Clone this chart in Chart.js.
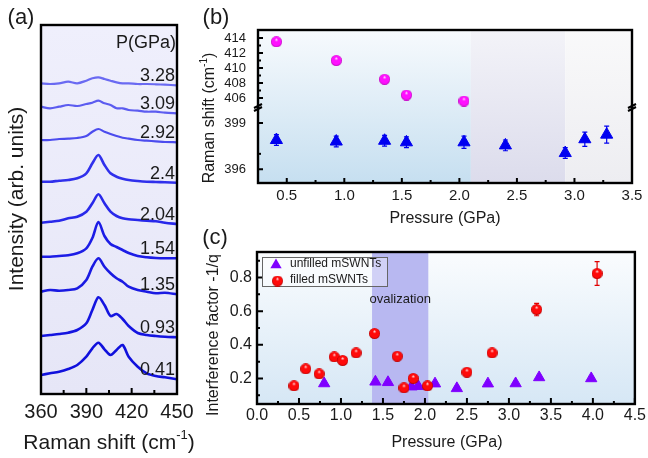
<!DOCTYPE html>
<html>
<head>
<meta charset="utf-8">
<script src="https://cdn.jsdelivr.net/npm/chart.js@4.4.0/dist/chart.umd.min.js"></script>
<style>
  html, body { margin: 0; padding: 0; background: #fff; }
  #wrap { position: relative; width: 648px; height: 458px; overflow: hidden; }
  canvas { position: absolute; }
</style>
</head>
<body>
<div id="wrap">
  <canvas id="chartA" width="205" height="458" style="left:0;top:0"></canvas>
  <canvas id="chartB" width="458" height="230" style="left:190px;top:0"></canvas>
  <canvas id="chartC" width="458" height="229" style="left:190px;top:229px"></canvas>
</div>
<script>
// ---- (a) Raman spectra, intensity in arb. units (offset stacked) ----
const ramanShift = [360, 366, 372, 378, 384, 390, 394, 398, 402, 406, 410, 414, 418, 424, 430, 436, 442, 450];
const pressureLabelsA = ['3.28', '3.09', '2.92', '2.4', '2.04', '1.54', '1.35', '0.93', '0.41'];
const spec328 = [310.7, 310, 310.7, 312.3, 310.7, 313.3, 315.7, 316.7, 315, 313.3, 311.7, 310.7, 310.7, 310, 310, 309.7, 309.3, 308.7];
const spec309 = [287.3, 285.7, 287.3, 289, 288, 290, 291.3, 293.3, 290.7, 289, 285.7, 285.7, 284, 283.3, 282.3, 282.3, 281.3, 280.7];
const spec292 = [254, 254, 255, 255.3, 256, 258, 262.3, 265, 262.3, 260, 258, 256.3, 255.3, 254, 253.3, 252.7, 252, 251.7];
const spec240 = [212.3, 212.3, 213.3, 214, 215.7, 220.7, 230.7, 239, 229, 220.7, 217.3, 215.3, 214, 213, 212.3, 212, 211.7, 211.3];
const spec204 = [171.3, 172.3, 173.3, 175.7, 177.3, 182.3, 190.7, 199.7, 190.7, 182.3, 178, 175.7, 174.7, 174, 173.3, 172.7, 171.3, 170];
const spec154 = [137.3, 137.3, 138, 138.7, 140.7, 145.7, 156, 172, 158, 150, 147, 144, 141, 138, 136.7, 136, 135.7, 135.7];
const spec135 = [102.3, 104, 103.3, 104, 105.7, 114, 127.3, 135.7, 127.3, 120.7, 115.7, 112.3, 107.3, 104, 102.3, 100.7, 101.3, 99.7];
const spec093 = [58, 59, 60, 61.3, 64, 70.7, 84, 96.7, 89, 78, 80, 75, 68, 61, 59, 58, 57.3, 56.7];
const spec041 = [19, 20.7, 22.3, 25, 29, 37.3, 45.7, 51.3, 44.7, 39, 44, 49, 37.3, 27.3, 20.7, 18, 16.7, 14.7];
const ticksA = [360, 390, 420, 450];
const minorA = [375, 405, 435];

// ---- (b) peak positions vs pressure ----
const pressureUpper = [0.41, 0.93, 1.35, 1.54, 2.04];
const shiftUpper = [413.5, 411.0, 408.5, 406.4, 405.6];
const pressureLower = [0.41, 0.93, 1.35, 1.54, 2.04, 2.4, 2.92, 3.09, 3.28];
const shiftLower = [397.9, 397.8, 397.85, 397.75, 397.75, 397.55, 397.05, 397.95, 398.25];
const errLower = [0.35, 0.35, 0.35, 0.35, 0.4, 0.35, 0.35, 0.47, 0.55];
const regionsB = [0.25, 2.1, 2.92, 3.5];
const ticksBx = [0.5, 1.0, 1.5, 2.0, 2.5, 3.0, 3.5];
const minorBx = [0.75, 1.25, 1.75, 2.25, 2.75, 3.25];
const ticksBupper = [406, 408, 410, 412, 414];
const minorBupper = [407, 409, 411, 413];
const ticksBlower = [396, 399];
const minorBlower = [397];

// ---- (c) interference factor ----
const pressureUnfilled = [0.80, 1.41, 1.56, 1.84, 1.92, 2.12, 2.38, 2.75, 3.08, 3.36, 3.98];
const factorUnfilled = [0.170, 0.180, 0.177, 0.151, 0.154, 0.169, 0.141, 0.169, 0.170, 0.206, 0.200];
const errUnfilled = [0.012, 0.012, 0.012, 0.012, 0.012, 0.012, 0.012, 0.012, 0.012, 0.012, 0.012];
const pressureFilled = [0.44, 0.58, 0.74, 0.92, 1.02, 1.18, 1.40, 1.67, 1.75, 1.86, 2.03, 2.50, 2.80, 3.33, 4.05];
const factorFilled = [0.156, 0.257, 0.227, 0.328, 0.307, 0.352, 0.467, 0.332, 0.144, 0.200, 0.156, 0.237, 0.352, 0.610, 0.824];
const errFilled = [0.01, 0.01, 0.01, 0.01, 0.01, 0.01, 0.01, 0.01, 0.01, 0.01, 0.01, 0.01, 0.01, 0.037, 0.071];
const ovalization = [1.37, 2.04];
const ticksCx = [0, 0.5, 1.0, 1.5, 2.0, 2.5, 3.0, 3.5, 4.0, 4.5];
const minorCx = [0.25, 0.75, 1.25, 1.75, 2.25, 2.75, 3.25, 3.75, 4.25];
const ticksCy = [0.2, 0.4, 0.6, 0.8];
const minorCy = [0.1, 0.3, 0.5, 0.7, 0.9];

const FONT = "'Liberation Sans', Arial, Helvetica, sans-serif";
const INK = '#1a1a1a';
Chart.defaults.font.family = FONT;
Chart.defaults.color = INK;
Chart.defaults.animation = false;

function sphere(base, edge, d) {
  const c = document.createElement('canvas');
  c.width = d; c.height = d;
  const g = c.getContext('2d'), r = d / 2;
  const grd = g.createRadialGradient(r, r * 0.55, 0, r, r, r);
  grd.addColorStop(0, '#ffffff');
  grd.addColorStop(0.32, base);
  grd.addColorStop(0.8, base);
  grd.addColorStop(1, edge);
  g.fillStyle = grd;
  g.beginPath(); g.arc(r, r, r, 0, Math.PI * 2); g.fill();
  return c;
}
const magentaBall = sphere('#ff10ff', '#b800b8', 11);
const redBall = sphere('#ff0a0a', '#b00000', 11);

// text with an optional superscript piece, centred on (x, y)
function label(ctx, parts, x, y, size, rotate) {
  ctx.save();
  ctx.translate(x, y);
  if (rotate) ctx.rotate(-Math.PI / 2);
  ctx.fillStyle = INK;
  ctx.textBaseline = 'middle';
  ctx.textAlign = 'left';
  const sup = Math.round(size * 0.62);
  let w = 0;
  parts.forEach(([t, s]) => { ctx.font = (s ? sup : size) + 'px ' + FONT; w += ctx.measureText(t).width; });
  let cx = -w / 2;
  parts.forEach(([t, s]) => {
    ctx.font = (s ? sup : size) + 'px ' + FONT;
    ctx.fillText(t, cx, s ? -size * 0.38 : 0);
    cx += ctx.measureText(t).width;
  });
  ctx.restore();
}

function inwardTicks(ctx, scale, vals, len, area) {
  ctx.beginPath();
  vals.forEach(v => {
    const p = scale.getPixelForValue(v);
    if (scale.isHorizontal()) { ctx.moveTo(p, area.bottom); ctx.lineTo(p, area.bottom - len); }
    else { ctx.moveTo(area.left, p); ctx.lineTo(area.left + len, p); }
  });
  ctx.stroke();
}

function frame(ctx, a) {
  ctx.save();
  ctx.strokeStyle = '#000';
  ctx.lineWidth = 2.4;
  ctx.strokeRect(a.left, a.top, a.right - a.left, a.bottom - a.top);
  ctx.restore();
}

const errorBars = {
  id: 'errorBars',
  beforeDatasetsDraw(chart) {
    const ctx = chart.ctx;
    chart.data.datasets.forEach((ds, i) => {
      if (!ds.errors) return;
      const meta = chart.getDatasetMeta(i);
      const ys = chart.scales[meta.yAxisID];
      ctx.save();
      ctx.strokeStyle = ds.barColor;
      ctx.lineWidth = 1.2;
      meta.data.forEach((pt, j) => {
        const v = ds.data[j].y, e = ds.errors[j];
        const y1 = ys.getPixelForValue(v + e), y2 = ys.getPixelForValue(v - e);
        ctx.beginPath();
        ctx.moveTo(pt.x, y1); ctx.lineTo(pt.x, y2);
        ctx.moveTo(pt.x - 2.5, y1); ctx.lineTo(pt.x + 2.5, y1);
        ctx.moveTo(pt.x - 2.5, y2); ctx.lineTo(pt.x + 2.5, y2);
        ctx.stroke();
      });
      ctx.restore();
    });
  }
};

const fixTicks = vals => s => { s.ticks = vals.map(v => ({ value: v })); };
const noGrid = { display: false, drawTicks: false };

// ================= panel (a) =================
const specSeries = [spec328, spec309, spec292, spec240, spec204, spec154, spec135, spec093, spec041];
const specColors = ['#6a6af2', '#5c5cf0', '#4c4cee', '#3030ec', '#2828ea', '#1c1ce6', '#1a1ae2', '#1414e0', '#1010dc'];

const panelA = {
  id: 'panelA',
  beforeDraw(chart) {
    const { ctx, chartArea: a } = chart;
    const g = ctx.createLinearGradient(0, a.top, 0, a.bottom);
    g.addColorStop(0, '#efeffc');
    g.addColorStop(1, '#e6e6f7');
    ctx.fillStyle = g;
    ctx.fillRect(a.left, a.top, a.right - a.left, a.bottom - a.top);
  },
  afterDraw(chart) {
    const { ctx, chartArea: a } = chart;
    ctx.save();
    ctx.fillStyle = INK;
    ctx.font = '18px ' + FONT;
    ctx.textAlign = 'right';
    ctx.textBaseline = 'middle';
    ctx.fillText('P(GPa)', a.right - 1, 43);
    chart.data.datasets.forEach((ds, i) => {
      const pts = chart.getDatasetMeta(i).data;
      ctx.fillText(ds.label, a.right - 2, pts[pts.length - 1].y - 9);
    });
    ctx.strokeStyle = '#000';
    ctx.lineWidth = 2;
    inwardTicks(ctx, chart.scales.x, ticksA, 6, a);
    inwardTicks(ctx, chart.scales.x, minorA, 4, a);
    ctx.restore();
    frame(ctx, a);
    label(ctx, [['Intensity (arb. units)', false]], 17, 199, 21, true);
    label(ctx, [['Raman shift (cm', false], ['-1', true], [')', false]], 109, 443, 21, false);
    label(ctx, [['(a)', false]], 21, 18, 22, false);
  }
};

new Chart(document.getElementById('chartA'), {
  type: 'line',
  data: {
    datasets: specSeries.map((s, i) => ({
      label: pressureLabelsA[i],
      data: ramanShift.map((x, j) => ({ x, y: s[j] })),
      borderColor: specColors[i],
      borderWidth: i < 3 ? 2.2 : 2.6,
      pointRadius: 0,
      tension: 0.3,
      fill: false
    }))
  },
  options: {
    responsive: false,
    layout: { padding: { left: 41, right: 28, top: 25, bottom: 0 } },
    plugins: { legend: { display: false }, tooltip: { enabled: false } },
    scales: {
      x: {
        type: 'linear', min: 360, max: 450,
        afterBuildTicks: fixTicks(ticksA),
        grid: noGrid, border: { display: false },
        ticks: { font: { size: 20 }, padding: 6, maxRotation: 0, autoSkip: false },
        afterFit: s => { s.height = 64; }
      },
      y: { display: false, min: 0, max: 369 }
    }
  },
  plugins: [panelA]
});

// ================= panel (b) =================
const panelB = {
  id: 'panelB',
  beforeDraw(chart) {
    const { ctx, chartArea: a } = chart;
    const xs = chart.scales.x;
    const shades = [['#c6dff0', '#f7fafd'], ['#dcdcec', '#f3f3f8'], ['#ededf1', '#f9f9fa']];
    for (let i = 0; i < regionsB.length - 1; i++) {
      const x0 = xs.getPixelForValue(regionsB[i]), x1 = xs.getPixelForValue(regionsB[i + 1]);
      const g = ctx.createLinearGradient(0, a.bottom, 0, a.top);
      g.addColorStop(0, shades[i][0]);
      g.addColorStop(1, shades[i][1]);
      ctx.fillStyle = g;
      ctx.fillRect(x0, a.top, x1 - x0, a.bottom - a.top);
    }
  },
  afterDraw(chart) {
    const { ctx, chartArea: a } = chart;
    ctx.save();
    ctx.strokeStyle = '#000';
    ctx.lineWidth = 2;
    inwardTicks(ctx, chart.scales.x, ticksBx, 5, a);
    inwardTicks(ctx, chart.scales.x, minorBx, 3, a);
    inwardTicks(ctx, chart.scales.yTop, ticksBupper, 5, a);
    inwardTicks(ctx, chart.scales.yTop, minorBupper, 3, a);
    inwardTicks(ctx, chart.scales.yBot, ticksBlower, 5, a);
    inwardTicks(ctx, chart.scales.yBot, minorBlower, 3, a);
    ctx.restore();
    frame(ctx, a);
    // axis break marks
    const yb = chart.scales.yBot.top;
    ctx.save();
    ctx.strokeStyle = '#000';
    ctx.lineWidth = 2;
    [a.left, a.right].forEach(x => {
      ctx.beginPath();
      ctx.moveTo(x - 4, yb + 1); ctx.lineTo(x + 4, yb - 3);
      ctx.moveTo(x - 4, yb + 4); ctx.lineTo(x + 4, yb);
      ctx.stroke();
    });
    ctx.restore();
    label(ctx, [['Raman shift (cm', false], ['-1', true], [')', false]], 20, 118, 16, true);
    label(ctx, [['Pressure (GPa)', false]], 255, 219, 16, false);
    label(ctx, [['(b)', false]], 26, 18, 22, false);
  }
};

const yCommon = {
  type: 'linear', position: 'left', stack: 'shift',
  grid: noGrid, border: { display: false },
  ticks: { font: { size: 13 }, padding: 12, autoSkip: false },
  afterFit: s => { s.width = 68; }
};

new Chart(document.getElementById('chartB'), {
  type: 'scatter',
  data: {
    datasets: [
      {
        label: 'filled',
        data: pressureUpper.map((x, i) => ({ x, y: shiftUpper[i] })),
        yAxisID: 'yTop',
        pointStyle: magentaBall, pointRadius: 5.5
      },
      {
        label: 'unfilled',
        data: pressureLower.map((x, i) => ({ x, y: shiftLower[i] })),
        yAxisID: 'yBot',
        errors: errLower, barColor: '#0000ee',
        pointStyle: 'triangle', pointRadius: 7,
        backgroundColor: '#0000f0', borderColor: '#0000f0', borderWidth: 1
      }
    ]
  },
  options: {
    responsive: false,
    layout: { padding: { left: 0, right: 16, top: 30, bottom: 0 } },
    plugins: { legend: { display: false }, tooltip: { enabled: false } },
    scales: {
      x: {
        type: 'linear', min: 0.25, max: 3.5,
        afterBuildTicks: fixTicks(ticksBx),
        grid: noGrid, border: { display: false },
        ticks: { font: { size: 15 }, padding: 4, maxRotation: 0, autoSkip: false, callback: v => v.toFixed(1) },
        afterFit: s => { s.height = 47; }
      },
      yBot: Object.assign({}, yCommon, { min: 395.1, max: 400.05, stackWeight: 76, afterBuildTicks: fixTicks(ticksBlower) }),
      yTop: Object.assign({}, yCommon, { min: 404.8, max: 415.07, stackWeight: 77, afterBuildTicks: fixTicks(ticksBupper) })
    }
  },
  plugins: [panelB, errorBars]
});

// ================= panel (c) =================
function triangle(ctx, x, y, r, color) {
  ctx.beginPath();
  ctx.moveTo(x, y - r);
  ctx.lineTo(x + r * Math.sin(Math.PI / 3), y + r / 2);
  ctx.lineTo(x - r * Math.sin(Math.PI / 3), y + r / 2);
  ctx.closePath();
  ctx.fillStyle = color;
  ctx.fill();
}

const panelC = {
  id: 'panelC',
  beforeDraw(chart) {
    const { ctx, chartArea: a } = chart;
    const g = ctx.createLinearGradient(0, a.bottom, 0, a.top);
    g.addColorStop(0, '#d6e7f5');
    g.addColorStop(1, '#fafcfe');
    ctx.fillStyle = g;
    ctx.fillRect(a.left, a.top, a.right - a.left, a.bottom - a.top);
    const xs = chart.scales.x;
    const x0 = xs.getPixelForValue(ovalization[0]), x1 = xs.getPixelForValue(ovalization[1]);
    ctx.fillStyle = '#b8b8f1';
    ctx.fillRect(x0, a.top, x1 - x0, a.bottom - a.top);
  },
  afterDraw(chart) {
    const { ctx, chartArea: a } = chart;
    const xs = chart.scales.x;
    ctx.save();
    ctx.strokeStyle = '#000';
    ctx.lineWidth = 2;
    inwardTicks(ctx, xs, ticksCx, 6, a);
    inwardTicks(ctx, xs, minorCx, 3, a);
    inwardTicks(ctx, chart.scales.y, ticksCy, 6, a);
    inwardTicks(ctx, chart.scales.y, minorCy, 3, a);
    ctx.restore();
    frame(ctx, a);
    // ovalization note
    ctx.save();
    ctx.fillStyle = INK;
    ctx.font = '13px ' + FONT;
    ctx.textAlign = 'center';
    ctx.textBaseline = 'middle';
    ctx.fillText('ovalization', (xs.getPixelForValue(ovalization[0]) + xs.getPixelForValue(ovalization[1])) / 2, a.top + 47);
    // legend
    const lx = a.left + 5, ly = a.top + 5;
    ctx.fillStyle = 'rgba(255,255,255,0.35)';
    ctx.fillRect(lx, ly, 125, 29);
    ctx.strokeStyle = '#666';
    ctx.lineWidth = 1;
    ctx.strokeRect(lx + 0.5, ly + 0.5, 125, 29);
    triangle(ctx, lx + 14, ly + 8, 6.5, '#7f00ff');
    ctx.drawImage(redBall, lx + 10, ly + 18.5);
    ctx.fillStyle = INK;
    ctx.font = '12px ' + FONT;
    ctx.textAlign = 'left';
    ctx.fillText('unfilled mSWNTs', lx + 28, ly + 7);
    ctx.fillText('filled mSWNTs', lx + 28, ly + 23);
    ctx.restore();
    label(ctx, [['Interference factor -1/q', false]], 24, 106, 16, true);
    label(ctx, [['Pressure (GPa)', false]], 257, 214, 16, false);
    label(ctx, [['(c)', false]], 25, 9, 22, false);
  }
};

new Chart(document.getElementById('chartC'), {
  type: 'scatter',
  data: {
    datasets: [
      {
        label: 'filled mSWNTs',
        data: pressureFilled.map((x, i) => ({ x, y: factorFilled[i] })),
        errors: errFilled, barColor: '#e00000',
        pointStyle: redBall, pointRadius: 5.5
      },
      {
        label: 'unfilled mSWNTs',
        data: pressureUnfilled.map((x, i) => ({ x, y: factorUnfilled[i] })),
        errors: errUnfilled, barColor: '#7f00ff',
        pointStyle: 'triangle', pointRadius: 6.5,
        backgroundColor: '#7f00ff', borderColor: '#7f00ff', borderWidth: 1
      }
    ]
  },
  options: {
    responsive: false,
    layout: { padding: { left: 0, right: 12, top: 23, bottom: 0 } },
    plugins: { legend: { display: false }, tooltip: { enabled: false } },
    scales: {
      x: {
        type: 'linear', min: 0, max: 4.5,
        afterBuildTicks: fixTicks(ticksCx),
        grid: noGrid, border: { display: false },
        ticks: { font: { size: 16 }, padding: 2, maxRotation: 0, autoSkip: false, callback: v => v.toFixed(1) },
        afterFit: s => { s.height = 54; }
      },
      y: {
        type: 'linear', min: 0.048, max: 0.952,
        afterBuildTicks: fixTicks(ticksCy),
        grid: noGrid, border: { display: false },
        ticks: { font: { size: 16 }, padding: 5, autoSkip: false, callback: v => v.toFixed(1) },
        afterFit: s => { s.width = 67; }
      }
    }
  },
  plugins: [panelC, errorBars]
});
</script>
</body>
</html>
